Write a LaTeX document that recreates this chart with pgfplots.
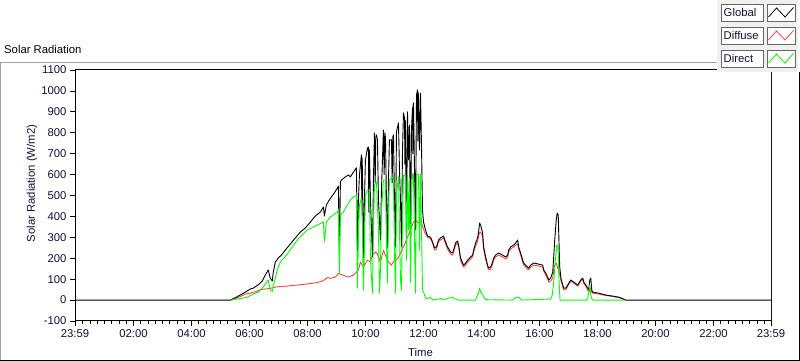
\documentclass[border=0pt]{standalone}
\usepackage{fontspec}
\setmainfont{Liberation Sans}
\usepackage{pgfplots}
\pgfplotsset{compat=1.18}
\definecolor{navy}{RGB}{16,16,56}
\definecolor{lvred}{RGB}{255,64,64}
\definecolor{lvgreen}{RGB}{0,255,0}
\definecolor{frgray}{RGB}{160,160,160}
\definecolor{lgbg}{RGB}{240,240,240}
\newcommand{\lvfont}{\fontsize{11.3}{13.5}\selectfont}
\begin{document}
\begin{tikzpicture}[x=1pt,y=1pt]
\path[use as bounding box] (0pt,0pt) rectangle (800pt,361pt);
% outer frame
\draw[frgray, line width=1pt] (0.5pt,0pt) -- (0.5pt,298.5pt) -- (717pt,298.5pt);
\draw[black, line width=1pt] (0pt,0.5pt) -- (799.5pt,0.5pt) -- (799.5pt,289pt);
\node[anchor=base west, inner sep=0, font=\lvfont] at (4pt,307pt) {Solar Radiation};

\begin{axis}[
  at={(75pt,40pt)}, anchor=south west, scale only axis,
  width=696pt, height=251pt,
  xmin=-0.0167, xmax=23.983, ymin=-100, ymax=1100,
  xtick={-0.0167,2,4,6,8,10,12,14,16,18,20,22,23.983},
  xticklabels={23:59,02:00,04:00,06:00,08:00,10:00,12:00,14:00,16:00,18:00,20:00,22:00,23:59},
  minor xtick={0.25,0.5,...,23.8},
  ytick={-100,0,...,1100},
  xtick pos=lower, ytick pos=left,
  tick align=outside,
  major tick length=5pt, minor tick length=3pt,
  tick style={black, line width=0.8pt},
  ticklabel style={font=\lvfont, text=navy},
  /pgf/number format/assume math mode=true,
  /pgf/number format/1000 sep={},
  axis line style={black, line width=1pt},
  every axis plot/.append style={line width=0.9pt, line join=round, mark=none},
]
% Diffuse
\addplot[lvred] table {
5.336 0
5.440 2
5.681 17
5.854 29
6.027 33
6.234 41
6.372 50
6.545 53
6.717 56
6.890 62
7.063 65
7.304 67
7.649 72
7.995 77
8.340 84
8.548 93
8.686 108
8.789 104
8.962 110
9.065 127
9.204 120
9.411 110
9.584 120
9.756 144
9.825 182
9.929 158
10.067 191
10.171 182
10.240 215
10.343 230
10.412 220
10.516 182
10.619 239
10.688 215
10.792 182
10.896 167
10.999 191
11.103 196
11.207 225
11.310 254
11.448 301
11.552 335
11.655 373
11.724 383
11.828 368
11.897 383
11.966 354
12.035 325
12.139 301
12.243 292
12.312 273
12.381 239
12.450 244
12.519 278
12.588 287
12.692 297
12.761 268
12.830 244
12.933 220
13.002 215
13.037 230
13.106 263
13.175 273
13.210 254
13.279 191
13.348 167
13.382 158
13.451 167
13.520 182
13.624 196
13.693 206
13.728 230
13.797 258
13.866 282
13.900 306
13.935 321
13.969 325
14.038 306
14.073 244
14.142 196
14.211 158
14.246 144
14.315 148
14.384 172
14.418 191
14.487 206
14.591 215
14.729 206
14.833 196
14.902 206
14.936 230
15.005 244
15.109 254
15.178 263
15.247 268
15.282 244
15.351 215
15.420 182
15.454 167
15.523 158
15.592 148
15.627 144
15.696 158
15.800 167
15.972 163
16.110 158
16.145 139
16.214 120
16.283 100
16.318 86
16.387 91
16.456 105
16.490 144
16.525 167
16.577 177
16.628 153
16.663 144
16.697 120
16.749 91
16.835 48
16.905 48
16.974 67
17.077 91
17.181 81
17.319 67
17.423 91
17.492 100
17.526 81
17.595 67
17.664 48
17.699 38
17.733 48
17.768 57
17.803 38
17.837 33
18.044 29
18.286 22
18.528 17
18.735 12
18.908 3
18.977 0
};
% Global
\addplot[black] table {
-0.017 0
5.336 0
5.543 14
5.681 24
5.854 38
6.027 53
6.130 57
6.234 67
6.337 77
6.441 91
6.545 120
6.648 144
6.717 105
6.786 91
6.821 134
6.890 182
6.993 201
7.097 215
7.235 239
7.408 268
7.580 297
7.753 325
7.926 345
8.099 373
8.271 402
8.444 421
8.548 445
8.582 402
8.651 455
8.755 479
8.824 493
8.927 512
9.031 536
9.065 545
9.100 215
9.135 565
9.169 574
9.307 589
9.411 598
9.480 589
9.584 612
9.687 632
9.722 225
9.756 479
9.791 598
9.860 694
9.872 480
9.883 680
9.894 622
9.929 201
9.963 479
9.998 670
10.067 727
10.101 732
10.115 420
10.125 720
10.136 708
10.171 479
10.240 206
10.274 574
10.309 799
10.335 560
10.355 780
10.378 790
10.412 766
10.447 479
10.516 287
10.550 526
10.619 813
10.645 600
10.665 800
10.688 780
10.723 479
10.757 249
10.792 574
10.826 766
10.896 766
10.920 560
10.940 780
10.965 790
10.999 479
11.034 254
11.068 804
11.137 847
11.172 622
11.207 479
11.241 254
11.276 718
11.310 895
11.345 871
11.360 650
11.370 860
11.379 847
11.414 301
11.448 900
11.483 670
11.517 837
11.552 287
11.586 813
11.621 919
11.635 700
11.645 935
11.655 943
11.690 622
11.724 335
11.759 981
11.793 1005
11.805 760
11.815 995
11.828 971
11.862 718
11.897 990
11.932 732
11.966 431
12.001 373
12.070 335
12.139 306
12.243 301
12.312 278
12.381 249
12.450 254
12.519 287
12.588 297
12.692 306
12.761 278
12.830 254
12.933 230
13.002 225
13.037 239
13.106 273
13.175 282
13.210 263
13.279 201
13.348 177
13.382 167
13.451 177
13.520 191
13.624 206
13.693 215
13.728 239
13.797 273
13.866 297
13.900 325
13.935 368
13.969 359
14.038 321
14.073 254
14.142 206
14.211 167
14.246 153
14.315 158
14.384 182
14.418 201
14.487 215
14.591 225
14.729 215
14.833 206
14.902 215
14.936 239
15.005 254
15.109 263
15.178 273
15.247 287
15.282 254
15.351 225
15.420 191
15.454 177
15.523 167
15.592 158
15.627 153
15.696 167
15.800 177
15.972 172
16.110 167
16.145 144
16.214 129
16.283 110
16.318 96
16.387 105
16.456 134
16.490 206
16.525 287
16.577 383
16.611 416
16.646 407
16.663 321
16.697 158
16.749 96
16.835 57
16.905 57
16.974 72
17.077 96
17.181 86
17.319 72
17.423 96
17.492 105
17.526 86
17.595 72
17.664 57
17.699 48
17.733 96
17.768 105
17.803 48
17.837 38
18.044 33
18.286 24
18.528 19
18.735 14
18.908 5
18.977 0
23.983 0
};
% Direct
\addplot[lvgreen] table {
5.336 0
5.681 7
5.923 14
6.130 29
6.303 38
6.441 57
6.545 77
6.648 96
6.717 48
6.786 41
6.855 86
6.959 144
7.063 182
7.304 220
7.649 287
7.995 335
8.340 359
8.548 373
8.582 278
8.651 373
8.789 397
9.031 421
9.065 431
9.100 124
9.135 407
9.238 421
9.376 455
9.480 479
9.584 493
9.687 502
9.722 57
9.756 287
9.791 455
9.860 488
9.894 335
9.929 48
9.963 239
9.998 502
10.067 526
10.136 526
10.171 191
10.240 33
10.274 335
10.309 550
10.378 565
10.447 335
10.481 33
10.516 144
10.550 431
10.619 574
10.688 574
10.723 287
10.757 81
10.792 383
10.826 574
10.896 584
10.965 589
10.999 239
11.034 33
11.068 502
11.137 593
11.172 335
11.207 96
11.241 48
11.276 383
11.310 598
11.379 593
11.414 191
11.448 598
11.483 335
11.517 574
11.552 86
11.586 479
11.621 603
11.655 603
11.690 287
11.724 33
11.759 598
11.828 603
11.862 239
11.897 603
11.932 335
11.966 48
12.001 38
12.070 10
12.139 7
12.243 14
12.312 0
12.588 7
12.692 2
12.864 10
13.002 12
13.106 5
13.210 0
13.797 0
13.831 14
13.900 33
13.935 57
13.969 43
14.038 24
14.142 2
15.074 0
15.178 12
15.282 14
15.385 0
16.387 5
16.439 24
16.490 86
16.542 182
16.594 263
16.639 254
16.673 96
16.708 0
17.630 0
17.664 10
17.699 38
17.733 72
17.768 24
17.803 7
17.837 0
18.977 0
};
\draw[frgray, line width=1pt] (rel axis cs:1,0) -- (rel axis cs:1,1);
\end{axis}

\node[font=\lvfont, text=navy] at (420.5pt,8.5pt) {Time};
\node[font=\lvfont, text=navy, rotate=90] at (32pt,177.5pt) {Solar Radiation (W/m2)};

% legend
\fill[lgbg] (717pt,361pt) rectangle (798pt,289pt);
\draw[gray!80!black, fill=white, line width=0.8pt] (721pt,357pt) rectangle (763pt,340pt);
\draw[gray!80!black, fill=white, line width=0.8pt] (767pt,357pt) rectangle (795pt,340pt);
\draw[gray!80!black, fill=white, line width=0.8pt] (721pt,334pt) rectangle (763pt,317pt);
\draw[gray!80!black, fill=white, line width=0.8pt] (767pt,334pt) rectangle (795pt,317pt);
\draw[gray!80!black, fill=white, line width=0.8pt] (721pt,311pt) rectangle (763pt,294pt);
\draw[gray!80!black, fill=white, line width=0.8pt] (767pt,311pt) rectangle (795pt,294pt);
\node[anchor=west, inner sep=0, font=\lvfont, text=navy] at (723.5pt,348.5pt) {Global};
\node[anchor=west, inner sep=0, font=\lvfont, text=navy] at (723.5pt,325.5pt) {Diffuse};
\node[anchor=west, inner sep=0, font=\lvfont, text=navy] at (723.5pt,302.5pt) {Direct};
\draw[black, line width=0.8pt] (768.5pt,344pt) -- (776.5pt,353pt) -- (785pt,344pt) -- (793.5pt,353.5pt);
\draw[lvred, line width=0.8pt] (768.5pt,321pt) -- (776.5pt,330pt) -- (785pt,321pt) -- (793.5pt,330.5pt);
\draw[lvgreen, line width=0.8pt] (768.5pt,298pt) -- (776.5pt,307pt) -- (785pt,298pt) -- (793.5pt,307.5pt);
\end{tikzpicture}
\end{document}
